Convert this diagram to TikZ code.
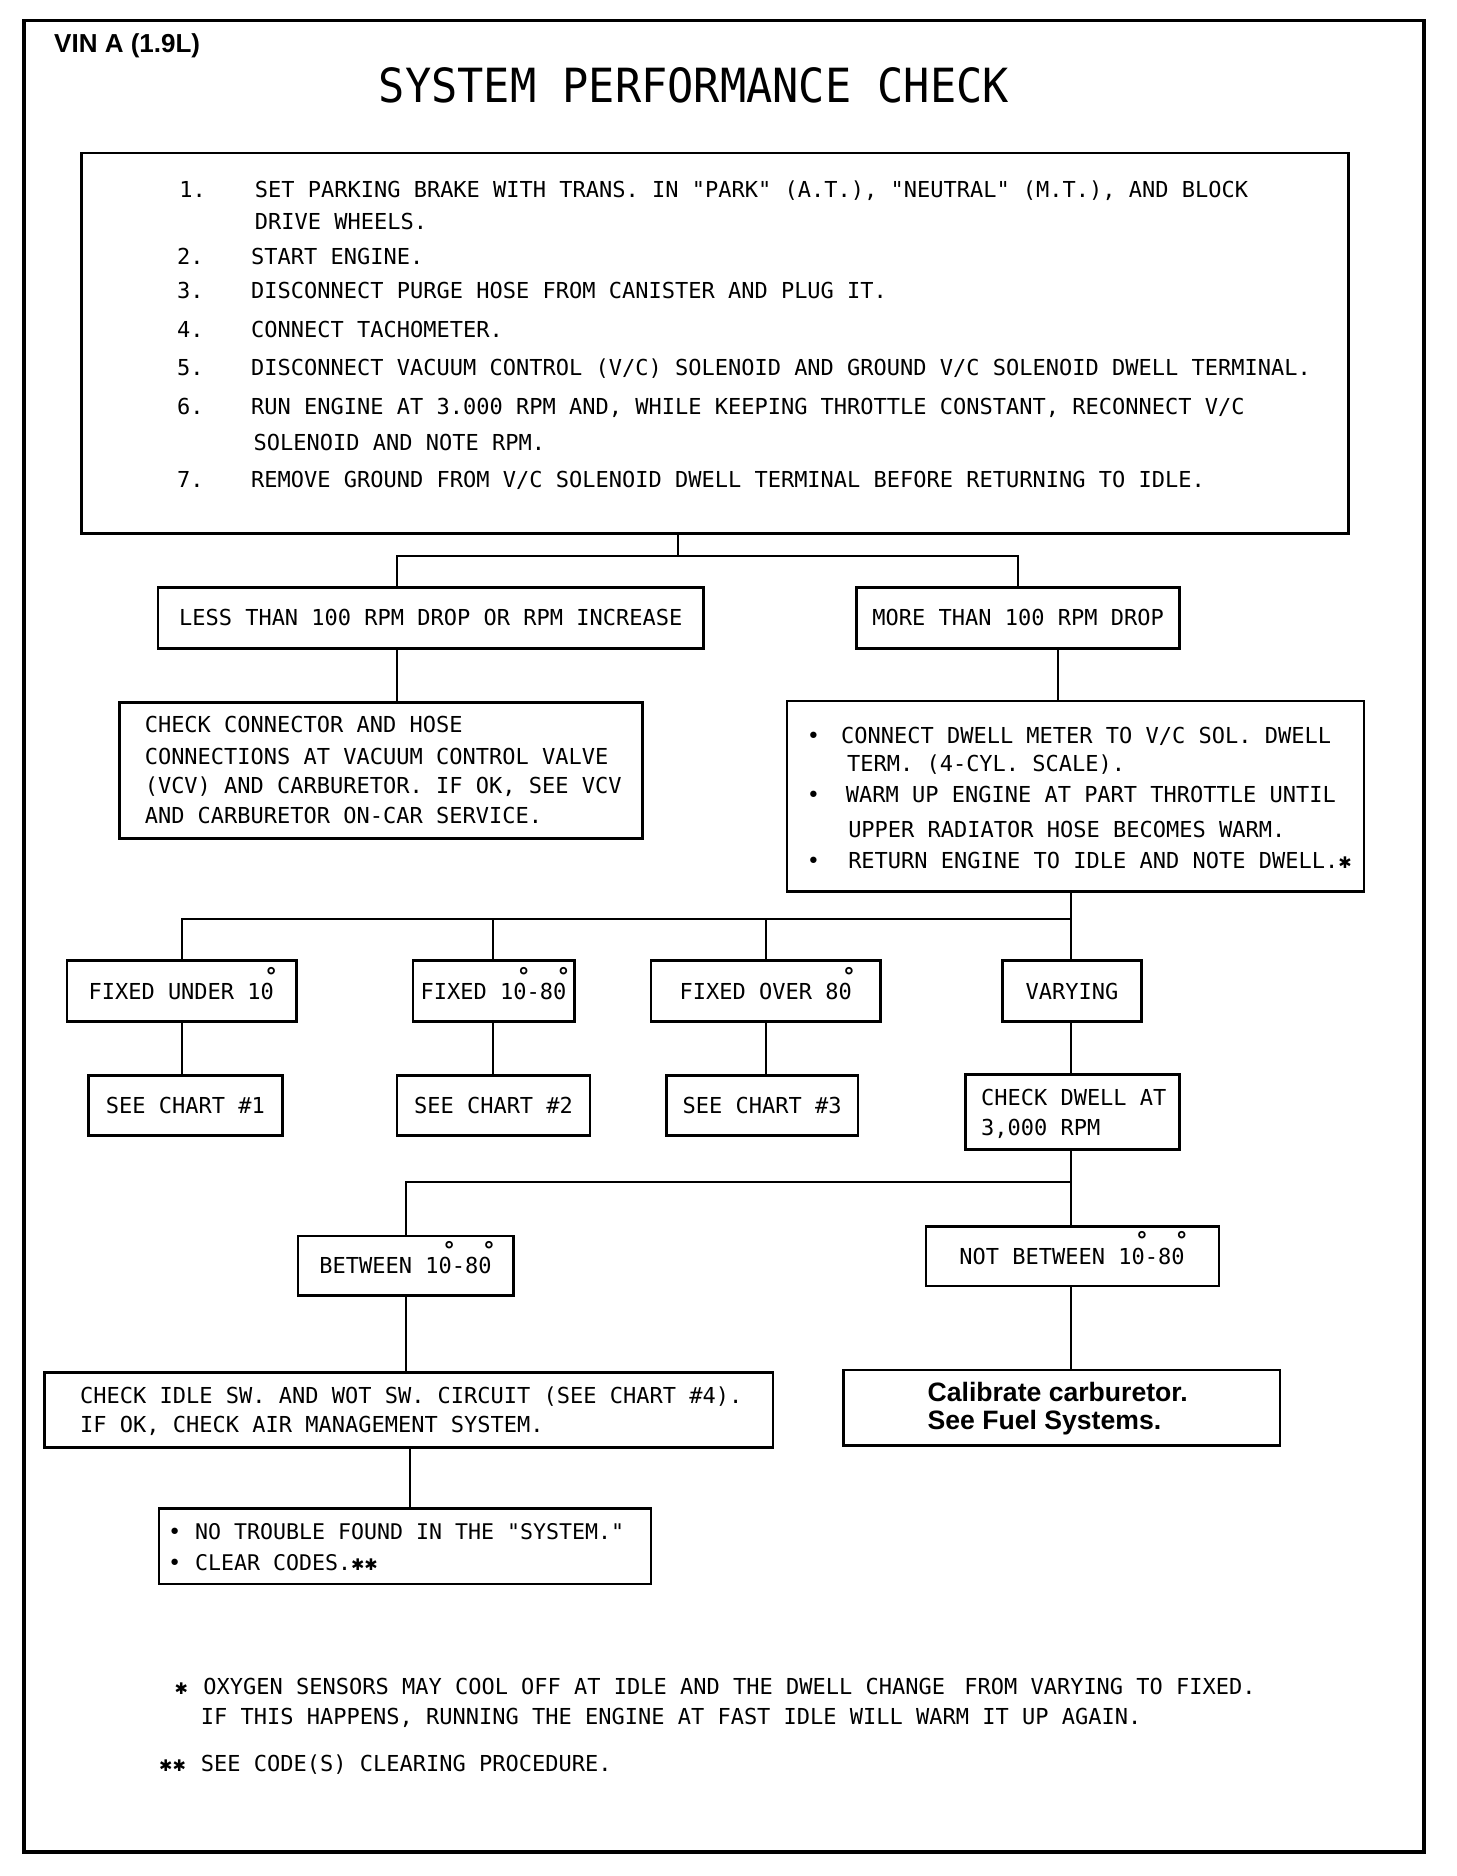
\documentclass[tikz,border=0pt]{standalone}
\usepackage{fontspec}
\usetikzlibrary{fit}
\newfontfamily\mono{DejaVu Sans Mono}
\newfontfamily\dvs{DejaVu Sans}
\newfontfamily\hel{Liberation Sans}
\newcommand\dz{0\llap{\raisebox{7.7pt}{\bfseries\fontsize{11.5}{11.5}\selectfont °}\kern-2.1pt}}
\newcommand\stx{{\dvs\fontsize{8}{8}\selectfont ✱}}
\begin{document}
\begin{tikzpicture}[x=0.59819pt,y=-0.59819pt,
  bxs/.style={draw, line width=1.25pt, inner sep=0pt},
  con/.style={line width=1pt},
  t/.style={font=\mono\fontsize{11}{13}\selectfont, inner sep=0pt, outer sep=0pt, anchor=base west},
  tc/.style={t, anchor=base},
  bold/.style={font=\hel\bfseries\fontsize{13.3}{14}\selectfont, anchor=base west, inner sep=0pt}]
\useasboundingbox (0,0) rectangle (1217,1568.05);
\fill[white] (0,0) rectangle (1217,1568.05);
\node[draw, line width=1.8pt, inner sep=0pt, fit={(20,17) (1190,1548)}] (frame) {};
% header
\node[bold, font=\hel\bfseries\fontsize{13}{14}\selectfont] (vin) at (45,44) {VIN A (1.9L)};
\node[font=\mono\fontsize{21.8}{24}\selectfont, anchor=base, inner sep=0pt] (title) at (580,86) {\scalebox{1}[1.08]{SYSTEM PERFORMANCE CHECK}};
% steps
\node[bxs, fit={(68,128) (1127,446)}] (steps) {};
\node[t] (n1) at (150,164.7) {1.};
\node[t] (s1a) at (213,164.7) {SET PARKING BRAKE WITH TRANS. IN "PARK" (A.T.), "NEUTRAL" (M.T.), AND BLOCK};
\node[t] (s1b) at (213,191.7) {DRIVE WHEELS.};
\node[t] (n2) at (148,220.7) {2.};
\node[t] (s2) at (210,220.7) {START ENGINE.};
\node[t] (n3) at (148,249.7) {3.};
\node[t] (s3) at (210,249.7) {DISCONNECT PURGE HOSE FROM CANISTER AND PLUG IT.};
\node[t] (n4) at (148,281.7) {4.};
\node[t] (s4) at (210,281.7) {CONNECT TACHOMETER.};
\node[t] (n5) at (148,313.7) {5.};
\node[t] (s5) at (210,313.7) {DISCONNECT VACUUM CONTROL (V/C) SOLENOID AND GROUND V/C SOLENOID DWELL TERMINAL.};
\node[t] (n6) at (148,346.7) {6.};
\node[t] (s6a) at (210,346.7) {RUN ENGINE AT 3.000 RPM AND, WHILE KEEPING THROTTLE CONSTANT, RECONNECT V/C};
\node[t] (s6b) at (212,376.7) {SOLENOID AND NOTE RPM.};
\node[t] (n7) at (148,407.7) {7.};
\node[t] (s7) at (210,407.7) {REMOVE GROUND FROM V/C SOLENOID DWELL TERMINAL BEFORE RETURNING TO IDLE.};
% first branch
\node[bxs, fit={(132,491) (588,542)}] (less) {};
\node[tc] (lesst) at (360,522.7) {LESS THAN 100 RPM DROP OR RPM INCREASE};
\node[bxs, fit={(716,491) (986,542)}] (more) {};
\node[tc] (moret) at (851,522.7) {MORE THAN 100 RPM DROP};
\coordinate (j0) at (567,465);
\coordinate (jl) at (332,465);
\coordinate (jr) at (851,465);
\coordinate (xr) at (884,0);
\draw[con] (steps.south -| j0) -- (j0);
\draw[con] (jl |- less.north) -- (jl) -- (jr) -- (jr |- more.north);
% check connector box
\node[bxs, fit={(100,587) (537,701)}] (chk) {};
\node[t] (chk1) at (121,612.6) {CHECK CONNECTOR AND HOSE};
\node[t] (chk2) at (121,638.6) {CONNECTIONS AT VACUUM CONTROL VALVE};
\node[t] (chk3) at (121,663.6) {(VCV) AND CARBURETOR. IF OK, SEE VCV};
\node[t] (chk4) at (121,688.6) {AND CARBURETOR ON-CAR SERVICE.};
\draw[con] (less.south -| jl) -- (chk.north -| jl);
% dwell meter box
\node[bxs, fit={(658,586) (1140,745)}] (dw) {};
\node[t] (dwb1) at (674.5,621.7) {•};
\node[t] (dw1) at (703,621.7) {CONNECT DWELL METER TO V/C SOL. DWELL};
\node[t] (dw2) at (708,644.7) {TERM. (4-CYL. SCALE).};
\node[t] (dwb2) at (674.5,670.7) {•};
\node[t] (dw3) at (707,670.7) {WARM UP ENGINE AT PART THROTTLE UNTIL};
\node[t] (dw4) at (709,699.7) {UPPER RADIATOR HOSE BECOMES WARM.};
\node[t] (dwb3) at (674.5,725.7) {•};
\node[t] (dw5) at (709,725.7) {RETURN ENGINE TO IDLE AND NOTE DWELL.\stx};
\draw[con] (more.south -| xr) -- (dw.north -| xr);
% dwell result row
\node[bxs, fit={(56,803) (248,854)}] (fu) {};
\node[tc] (fut) at (151.5,835.7) {FIXED UNDER 1\dz};
\node[bxs, fit={(345,803) (480,854)}] (f18) {};
\node[tc] (f18t) at (412.5,835.7) {FIXED 1\dz-8\dz};
\node[bxs, fit={(544,803) (736,854)}] (fo) {};
\node[tc] (fot) at (640,835.7) {FIXED OVER 8\dz};
\node[bxs, fit={(838,803) (954,854)}] (vy) {};
\node[tc] (vyt) at (896,835.7) {VARYING};
\coordinate (ka) at (152,768);
\coordinate (kb) at (412,768);
\coordinate (kc) at (640,768);
\coordinate (kd) at (895,768);
\draw[con] (dw.south -| kd) -- (kd);
\draw[con] (ka |- fu.north) -- (ka) -- (kd) -- (kd |- vy.north);
\draw[con] (kb) -- (kb |- f18.north);
\draw[con] (kc) -- (kc |- fo.north);
% charts row
\node[bxs, fit={(74,899) (236,949)}] (c1) {};
\node[tc] (c1t) at (155,930.7) {SEE CHART \#1};
\node[bxs, fit={(332,899) (493,949)}] (c2) {};
\node[tc] (c2t) at (412.5,930.7) {SEE CHART \#2};
\node[bxs, fit={(557,899) (717,949)}] (c3) {};
\node[tc] (c3t) at (637,930.7) {SEE CHART \#3};
\node[bxs, fit={(807,898) (986,961)}] (cd) {};
\node[t] (cd1) at (820,923.7) {CHECK DWELL AT};
\node[t] (cd2) at (820,948.7) {3,000 RPM};
\draw[con] (ka |- fu.south) -- (ka |- c1.north);
\draw[con] (kb |- f18.south) -- (kb |- c2.north);
\draw[con] (kc |- fo.south) -- (kc |- c3.north);
\draw[con] (kd |- vy.south) -- (kd |- cd.north);
% between row
\node[bxs, fit={(249,1033) (429,1083)}] (bt) {};
\node[tc] (btt) at (339,1064.7) {BETWEEN 1\dz-8\dz};
\node[bxs, fit={(774,1025) (1019,1075)}] (nb) {};
\node[tc] (nbt) at (896,1056.7) {NOT BETWEEN 1\dz-8\dz};
\coordinate (m0) at (895,988);
\coordinate (ml) at (339,988);
\draw[con] (cd.south -| m0) -- (m0);
\draw[con] (ml |- bt.north) -- (ml) -- (m0) -- (m0 |- nb.north);
% lower boxes
\node[bxs, fit={(37,1147) (646,1210)}] (ci) {};
\node[t] (ci1) at (67,1172.7) {CHECK IDLE SW. AND WOT SW. CIRCUIT (SEE CHART \#4).};
\node[t] (ci2) at (67,1197.7) {IF OK, CHECK AIR MANAGEMENT SYSTEM.};
\node[bxs, fit={(705,1145) (1070,1208)}] (cal) {};
\node[bold] (cal1) at (775,1171.7) {Calibrate carburetor.};
\node[bold] (cal2) at (775,1194.7) {See Fuel Systems.};
\draw[con] (ml |- bt.south) -- (ml |- ci.north);
\draw[con] (m0 |- nb.south) -- (m0 |- cal.north);
\coordinate (px) at (343,0);
\node[bxs, fit={(133,1261) (544,1324)}] (ntf) {};
\node[t] (ntfb1) at (140.5,1286.7) {•};
\node[t, font=\mono\fontsize{10.8}{13}\selectfont] (ntf1) at (163,1286.7) {NO TROUBLE FOUND IN THE "SYSTEM."};
\node[t] (ntfb2) at (140.5,1312.7) {•};
\node[t, font=\mono\fontsize{10.8}{13}\selectfont] (ntf2) at (163,1312.7) {CLEAR CODES.\stx\stx};
\draw[con] (ci.south -| px) -- (ntf.north -| px);
% footnotes
\node[t] (fs1) at (146,1416.7) {\stx};
\node[t] (fn1) at (170,1416.7) {OXYGEN SENSORS MAY COOL OFF AT IDLE AND THE DWELL CHANGE\hspace{3pt} FROM VARYING TO FIXED.};
\node[t] (fn2) at (168,1441.7) {IF THIS HAPPENS, RUNNING THE ENGINE AT FAST IDLE WILL WARM IT UP AGAIN.};
\node[t] (fs2) at (133,1480.7) {\stx\stx};
\node[t] (fn3) at (168,1480.7) {SEE CODE(S) CLEARING PROCEDURE.};
\end{tikzpicture}
\end{document}
